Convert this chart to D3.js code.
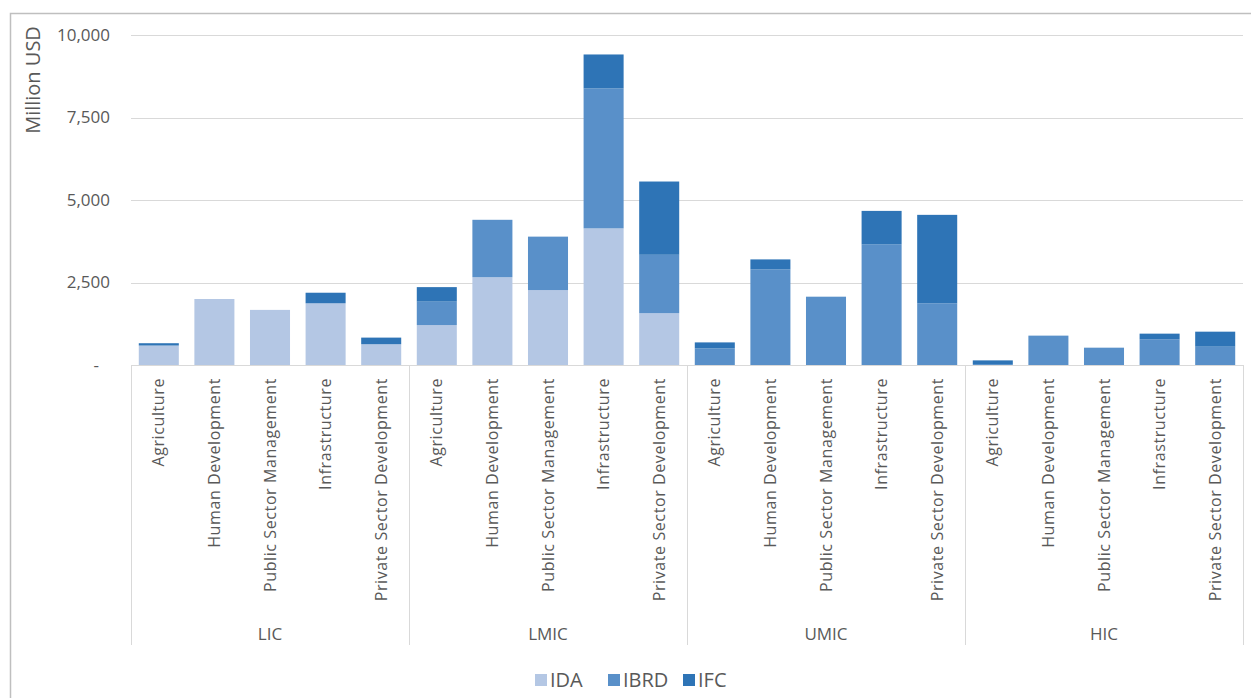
<!DOCTYPE html>
<meta charset="utf-8">
<style>
    body {
        margin: 0;
        background: #fff;
    }

    svg {
        font-family: "Open Sans", sans-serif;
    }

    .grid line {
        stroke: #d9d9d9;
        stroke-width: 1;
    }

    .tick-label {
        fill: #595959;
        font-size: 17px;
    }

    .cat-label {
        fill: #595959;
        font-size: 16px;
        letter-spacing: 0.6px;
    }
</style>
<body>
<script src="https://cdn.jsdelivr.net/npm/d3@7"></script>
<script>
    const width = 1251;
    const height = 698;

    // income groups, each with the same five sectors
    const groups = ["LIC", "LMIC", "UMIC", "HIC"];
    const sectors = ["Agriculture", "Human Development", "Public Sector Management",
                     "Infrastructure", "Private Sector Development"];

    // Million USD, one value per group x sector (LIC first)
    const ida  = [590, 2000, 1670, 1870, 630,
                  1210, 2660, 2270, 4140, 1570,
                  0, 0, 0, 0, 0,
                  0, 0, 0, 0, 0];
    const ibrd = [0, 0, 0, 0, 0,
                  710, 1740, 1620, 4240, 1770,
                  505, 2900, 2070, 3660, 1870,
                  30, 890, 525, 780, 555];
    const ifc  = [70, 0, 0, 320, 200,
                  440, 0, 0, 1030, 2220,
                  180, 300, 0, 1010, 2680,
                  110, 0, 0, 170, 455];

    const seriesNames = ["IDA", "IBRD", "IFC"];
    const yTicks = [0, 2500, 5000, 7500, 10000];

    const color = d3.scaleOrdinal()
        .domain(seriesNames)
        .range(["#b4c7e4", "#5990c9", "#2e74b6"]);

    // build rows for the stack
    const rows = [];
    groups.forEach((g, gi) => {
        sectors.forEach((s, si) => {
            const i = gi * sectors.length + si;
            rows.push({key: g + "|" + s, group: g, sector: s,
                       IDA: ida[i], IBRD: ibrd[i], IFC: ifc[i]});
        });
    });

    const plotLeft = 131, plotRight = 1243;
    const plotTop = 35, plotBottom = 365;

    const x = d3.scaleBand()
        .domain(rows.map(d => d.key))
        .range([plotLeft, plotRight])
        .paddingInner(0.28)
        .paddingOuter(0.14);

    const xGroup = d3.scaleBand()
        .domain(groups)
        .range([plotLeft, plotRight]);

    const y = d3.scaleLinear()
        .domain([0, 10000])
        .range([plotBottom, plotTop]);

    const svg = d3.select("body")
        .append("svg")
        .attr("width", width)
        .attr("height", height);

    // outer frame
    svg.append("rect")
        .attr("x", 10.5)
        .attr("y", 13.5)
        .attr("width", width)
        .attr("height", height)
        .attr("fill", "none")
        .attr("stroke", "#bfbfbf")
        .attr("stroke-width", 1.5);

    // gridlines
    svg.append("g")
        .attr("class", "grid")
        .selectAll("line")
        .data(yTicks.filter(d => d > 0))
        .enter().append("line")
        .attr("x1", plotLeft)
        .attr("x2", plotRight)
        .attr("y1", d => Math.round(y(d)) + 0.5)
        .attr("y2", d => Math.round(y(d)) + 0.5);

    // y tick labels
    svg.append("g")
        .selectAll("text")
        .data(yTicks)
        .enter().append("text")
        .attr("class", "tick-label")
        .attr("x", d => d === 0 ? 99 : 110)
        .attr("y", d => y(d))
        .attr("dy", "0.35em")
        .attr("text-anchor", "end")
        .text(d => d === 0 ? "-" : d3.format(",")(d));

    // y axis title
    svg.append("text")
        .attr("class", "tick-label")
        .attr("transform", "translate(33,80) rotate(-90)")
        .attr("dy", "0.35em")
        .attr("text-anchor", "middle")
        .style("font-size", "20px")
        .text("Million USD");

    // stacked bars
    const stack = d3.stack().keys(seriesNames);
    const layers = stack(rows);

    svg.append("g")
        .selectAll("g")
        .data(layers)
        .enter().append("g")
        .attr("fill", d => color(d.key))
        .selectAll("rect")
        .data(d => d)
        .enter().append("rect")
        .attr("x", d => x(d.data.key))
        .attr("width", x.bandwidth())
        .attr("y", d => y(d[1]))
        .attr("height", d => y(d[0]) - y(d[1]));

    // category axis line and group separators
    const axis = svg.append("g").attr("class", "grid");
    axis.append("line")
        .attr("x1", plotLeft)
        .attr("x2", plotRight)
        .attr("y1", plotBottom + 0.5)
        .attr("y2", plotBottom + 0.5);

    const seps = groups.map(g => xGroup(g)).concat([plotRight]);
    axis.selectAll(".sep")
        .data(seps)
        .enter().append("line")
        .attr("class", "sep")
        .attr("x1", d => Math.round(d) + 0.5)
        .attr("x2", d => Math.round(d) + 0.5)
        .attr("y1", plotBottom)
        .attr("y2", 645);

    // sector labels (rotated)
    svg.append("g")
        .selectAll("text")
        .data(rows)
        .enter().append("text")
        .attr("class", "cat-label")
        .attr("transform", d => "translate(" + (x(d.key) + x.bandwidth() / 2) + ",378) rotate(-90)")
        .attr("dy", "0.35em")
        .attr("text-anchor", "end")
        .text(d => d.sector);

    // group labels
    svg.append("g")
        .selectAll("text")
        .data(groups)
        .enter().append("text")
        .attr("class", "tick-label")
        .attr("x", d => xGroup(d) + xGroup.bandwidth() / 2)
        .attr("y", 634)
        .attr("dy", "0.35em")
        .attr("text-anchor", "middle")
        .text(d => d);

    // legend
    const legendX = [535, 608, 683];
    const legend = svg.append("g")
        .selectAll("g")
        .data(seriesNames)
        .enter().append("g")
        .attr("transform", (d, i) => "translate(" + legendX[i] + ",674)");

    legend.append("rect")
        .attr("width", 12)
        .attr("height", 12)
        .attr("fill", d => color(d));

    legend.append("text")
        .attr("class", "tick-label")
        .attr("x", 15)
        .attr("y", 6)
        .attr("dy", "0.35em")
        .style("font-size", "20px")
        .text(d => d);
</script>
</body>
</html>
